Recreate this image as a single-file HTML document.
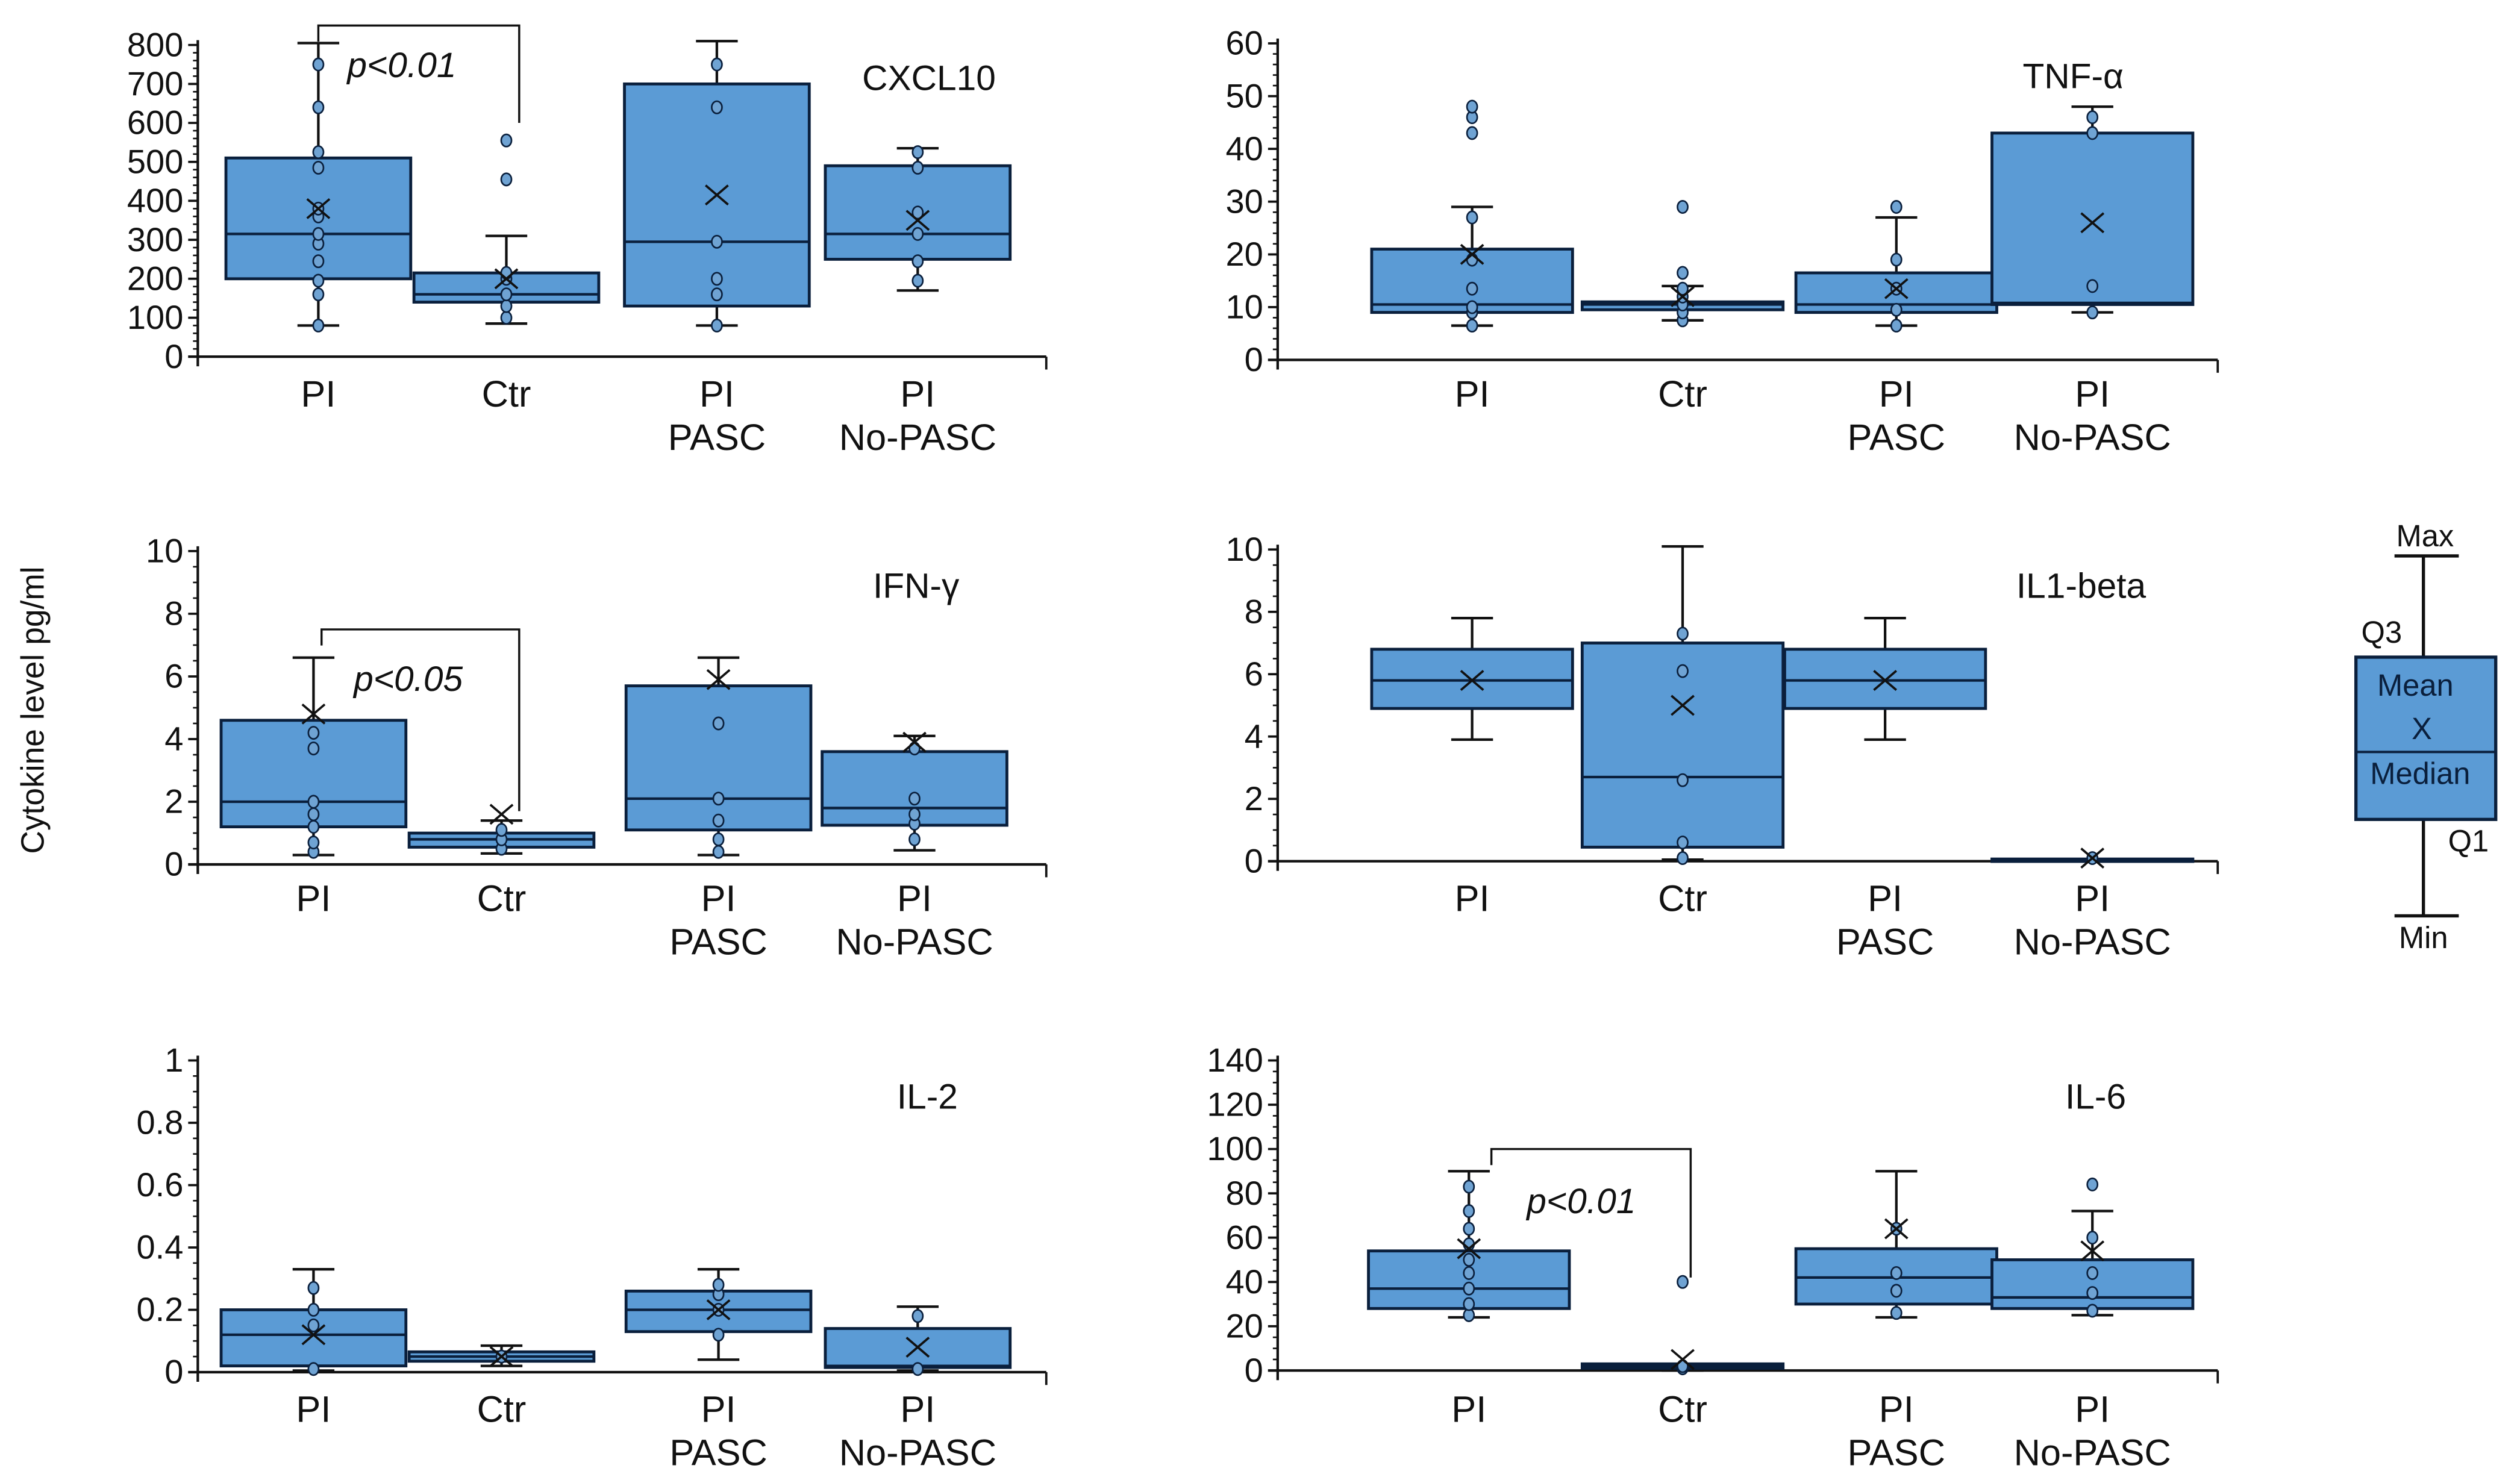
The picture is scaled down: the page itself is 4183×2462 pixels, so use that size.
<!DOCTYPE html>
<html><head><meta charset="utf-8"><style>
html,body{margin:0;padding:0;background:#fff}
svg{display:block}
text{font-family:"Liberation Sans",sans-serif;fill:#111}
</style></head><body>
<svg id="fig" xmlns="http://www.w3.org/2000/svg" width="4183" height="2462" viewBox="0 0 1568 923">
<rect width="1568" height="923" fill="#fff"/>
<text x="0" y="0" font-size="20" text-anchor="middle" transform="translate(27,442) rotate(-90)">Cytokine level pg/ml</text>
<g id="legend">
<line x1="1490" y1="346" x2="1530" y2="346" stroke="#111" stroke-width="2"/>
<line x1="1490" y1="570" x2="1530" y2="570" stroke="#111" stroke-width="2"/>
<line x1="1508" y1="346" x2="1508" y2="570" stroke="#111" stroke-width="2"/>
<rect x="1466" y="409" width="87" height="101" fill="#5b9bd5" stroke="#0a1f3c" stroke-width="2"/>
<line x1="1466" y1="468" x2="1553" y2="468" stroke="#0a1f3c" stroke-width="1.5"/>
<text x="1509" y="340" font-size="19" text-anchor="middle">Max</text>
<text x="1482" y="400" font-size="19" text-anchor="middle">Q3</text>
<text x="1536" y="530" font-size="19" text-anchor="middle">Q1</text>
<text x="1508" y="590" font-size="19" text-anchor="middle">Min</text>
<text x="1503" y="433" font-size="19" text-anchor="middle" style="fill:#0a1f3c">Mean</text>
<text x="1507" y="460" font-size="19" text-anchor="middle" style="fill:#0a1f3c">X</text>
<text x="1506" y="488" font-size="19" text-anchor="middle" style="fill:#0a1f3c">Median</text>
</g>
</svg>
<script>
const categories = [["PI"],["Ctr"],["PI","PASC"],["PI","No-PASC"]];
// CXCL10
const cxclMin=[80,85,80,170], cxclQ1=[200,140,130,250], cxclMed=[315,160,295,315], cxclQ3=[510,215,700,490], cxclMax=[805,310,810,535], cxclMean=[380,200,415,350];
const cxclPts=[[80,160,195,245,290,315,360,380,485,525,640,750],[100,130,160,200,215,455,555],[80,160,200,295,640,750],[195,245,315,370,485,525]];
const cxclTicks=[0,100,200,300,400,500,600,700,800];
// TNF
const tnfMin=[6.5,7.5,6.5,9], tnfQ1=[9,9.5,9,10.5], tnfMed=[10.5,10.5,10.5,10.8], tnfQ3=[21,11,16.5,43], tnfMax=[29,14,27,48], tnfMean=[20,12,13.5,26];
const tnfPts=[[6.5,9,10,13.5,19,27,43,46,48],[7.5,9,10.5,12,13.5,16.5,29],[6.5,9.5,13.5,19,29],[9,14,43,46]];
const tnfTicks=[0,10,20,30,40,50,60];
// IFN
const ifnMin=[0.3,0.35,0.3,0.45], ifnQ1=[1.2,0.55,1.1,1.25], ifnMed=[2.0,0.8,2.1,1.8], ifnQ3=[4.6,1.0,5.7,3.6], ifnMax=[6.6,1.4,6.6,4.1], ifnMean=[4.8,1.6,5.9,3.9];
const ifnPts=[[0.4,0.7,1.2,1.6,2.0,3.7,4.2],[0.5,0.8,1.1],[0.4,0.8,1.4,2.1,4.5],[0.8,1.3,1.6,2.1,3.7]];
const ifnTicks=[0,2,4,6,8,10];
// IL1-beta
const il1Min=[3.9,0.05,3.9,0.05], il1Q1=[4.9,0.45,4.9,0.05], il1Med=[5.8,2.7,5.8,0.05], il1Q3=[6.8,7.0,6.8,0.07], il1Max=[7.8,10.1,7.8,0.07], il1Mean=[5.8,5.0,5.8,0.1];
const il1Pts=[[],[0.1,0.6,2.6,6.1,7.3],[],[0.1]];
const il1Ticks=[0,2,4,6,8,10];
// IL-2
const il2Min=[0.005,0.02,0.04,0.005], il2Q1=[0.02,0.035,0.13,0.015], il2Med=[0.12,0.05,0.2,0.02], il2Q3=[0.2,0.065,0.26,0.14], il2Max=[0.33,0.085,0.33,0.21], il2Mean=[0.12,0.05,0.2,0.08];
const il2Pts=[[0.01,0.15,0.2,0.27],[0.05],[0.12,0.2,0.25,0.28],[0.01,0.18]];
const il2Ticks=[0,0.2,0.4,0.6,0.8,1];
// IL-6
const il6Min=[24,0,24,25], il6Q1=[28,1,30,28], il6Med=[37,2,42,33], il6Q3=[54,3,55,50], il6Max=[90,3,90,72], il6Mean=[55,5,64,54];
const il6Pts=[[25,30,37,44,50,57,64,72,83],[1,2,40],[26,36,44,64],[27,35,44,60,84]];
const il6Ticks=[0,20,40,60,80,100,120,140];

const NS="http://www.w3.org/2000/svg";
const svg=document.getElementById('fig');
function mk(tag,attrs,parent){const e=document.createElementNS(NS,tag);for(const k in attrs)e.setAttribute(k,attrs[k]);(parent||svg).appendChild(e);return e;}

const panels=[
 {name:'cxcl10',title:'CXCL10',tx:578,ty:56,ax:123,ax2:651,y0:222,y1:28,vmax:800,minor:20,cx:[198,315,446,571],bw:115,lbl:253,
  d:[cxclMin,cxclQ1,cxclMed,cxclQ3,cxclMax,cxclMean,cxclPts],ticks:cxclTicks,br:{v1:850,x1:198,x2:323,v2:600,t:'p<0.01',tx:216,ty:48}},
 {name:'tnf',title:'TNF-α',tx:1290,ty:55,ax:795,ax2:1380,y0:224,y1:27,vmax:60,minor:2,cx:[916,1047,1180,1302],bw:125,lbl:253,
  d:[tnfMin,tnfQ1,tnfMed,tnfQ3,tnfMax,tnfMean,tnfPts],ticks:tnfTicks},
 {name:'ifn',title:'IFN-γ',tx:570,ty:372,ax:123,ax2:651,y0:538,y1:343,vmax:10,minor:0.5,cx:[195,312,447,569],bw:115,lbl:567,
  d:[ifnMin,ifnQ1,ifnMed,ifnQ3,ifnMax,ifnMean,ifnPts],ticks:ifnTicks,br:{v1:7.5,x1:200,x2:323,v2:1.7,t:'p<0.05',tx:220,ty:430}},
 {name:'il1beta',title:'IL1-beta',tx:1295,ty:372,ax:795,ax2:1380,y0:536,y1:342,vmax:10,minor:0.5,cx:[916,1047,1173,1302],bw:125,lbl:567,
  d:[il1Min,il1Q1,il1Med,il1Q3,il1Max,il1Mean,il1Pts],ticks:il1Ticks},
 {name:'il2',title:'IL-2',tx:577,ty:690,ax:123,ax2:651,y0:854,y1:660,vmax:1,minor:0.05,cx:[195,312,447,571],bw:115,lbl:885,
  d:[il2Min,il2Q1,il2Med,il2Q3,il2Max,il2Mean,il2Pts],ticks:il2Ticks},
 {name:'il6',title:'IL-6',tx:1304,ty:690,ax:795,ax2:1380,y0:853,y1:660,vmax:140,minor:5,cx:[914,1047,1180,1302],bw:125,lbl:885,
  d:[il6Min,il6Q1,il6Med,il6Q3,il6Max,il6Mean,il6Pts],ticks:il6Ticks,br:{v1:100,x1:928,x2:1052,v2:42,t:'p<0.01',tx:950,ty:755}}
];
const fill='#5b9bd5', dark='#0a1f3c';
panels.forEach(p=>{
 const g=mk('g',{});
 
 
 const Y=v=>p.y0-(v/p.vmax)*(p.y0-p.y1);
 mk('line',{x1:p.ax,y1:p.y1-3,x2:p.ax,y2:p.y0+6,stroke:'#111','stroke-width':1.6},g);
 mk('line',{x1:p.ax-6,y1:p.y0,x2:p.ax2,y2:p.y0,stroke:'#111','stroke-width':1.6},g);
 mk('line',{x1:p.ax2,y1:p.y0,x2:p.ax2,y2:p.y0+8,stroke:'#111','stroke-width':1.4},g);
 for(let v=0;v<=p.vmax+1e-9;v+=p.minor){mk('line',{x1:p.ax-3,y1:Y(v),x2:p.ax,y2:Y(v),stroke:'#111','stroke-width':1},g);}
 p.ticks.forEach(t=>{
  mk('line',{x1:p.ax-6,y1:Y(t),x2:p.ax,y2:Y(t),stroke:'#111','stroke-width':1.4},g);
  const tl=mk('text',{x:p.ax-9,y:Y(t)+7,'font-size':21,'text-anchor':'end'},g);
  
  
  tl.textContent=String(t);
 });
 const tt=mk('text',{x:p.tx,y:p.ty,'font-size':22,'text-anchor':'middle'},g);
 
 
 tt.textContent=p.title;
 const [mnA,q1A,mdA,q3A,mxA,meA,pts]=p.d;
 categories.forEach((c,i)=>{
  const x=p.cx[i], hw=p.bw/2;
  const mn=mnA[i], q1=q1A[i], md=mdA[i], q3=q3A[i], mx=mxA[i], me=meA[i];
  const bg=mk('g',{},g);
  
  
  mk('line',{x1:x,y1:Y(mx),x2:x,y2:Y(mn),stroke:'#111','stroke-width':1.6},bg);
  mk('line',{x1:x-13,y1:Y(mx),x2:x+13,y2:Y(mx),stroke:'#111','stroke-width':1.6},bg);
  mk('line',{x1:x-13,y1:Y(mn),x2:x+13,y2:Y(mn),stroke:'#111','stroke-width':1.6},bg);
  mk('rect',{x:x-hw,y:Y(q3),width:p.bw,height:Math.max(1.5,Y(q1)-Y(q3)),fill:fill,stroke:dark,'stroke-width':1.8},bg);
  mk('line',{x1:x-hw,y1:Y(md),x2:x+hw,y2:Y(md),stroke:dark,'stroke-width':1.6},bg);
  pts[i].forEach(v=>{
   const pt=mk('ellipse',{cx:x,cy:Y(v),rx:3.2,ry:3.8,fill:'#6fa3d3',stroke:dark,'stroke-width':1},bg);
   
   
  });
  const my=Y(me);
  mk('path',{d:`M${x-7} ${my-6}L${x+7} ${my+6}M${x+7} ${my-6}L${x-7} ${my+6}`,stroke:'#111','stroke-width':1.4,fill:'none'},bg);
  c.forEach((s,k)=>{
   const cl=mk('text',{x:x,y:p.lbl+k*27,'font-size':23,'text-anchor':'middle'},g);
   
   
   cl.textContent=s;
  });
 });
 if(p.br){
  const b=p.br, top=Y(b.v1);
  const bp=mk('path',{d:`M${b.x1} ${top+10}V${top}H${b.x2}V${Y(b.v2)}`,stroke:'#111','stroke-width':1.3,fill:'none'},g);
  
  
  const st=mk('text',{x:b.tx,y:b.ty,'font-size':22,'font-style':'italic'},g);
  
  
  st.textContent=b.t;
 }
});
</script>
</body></html>
